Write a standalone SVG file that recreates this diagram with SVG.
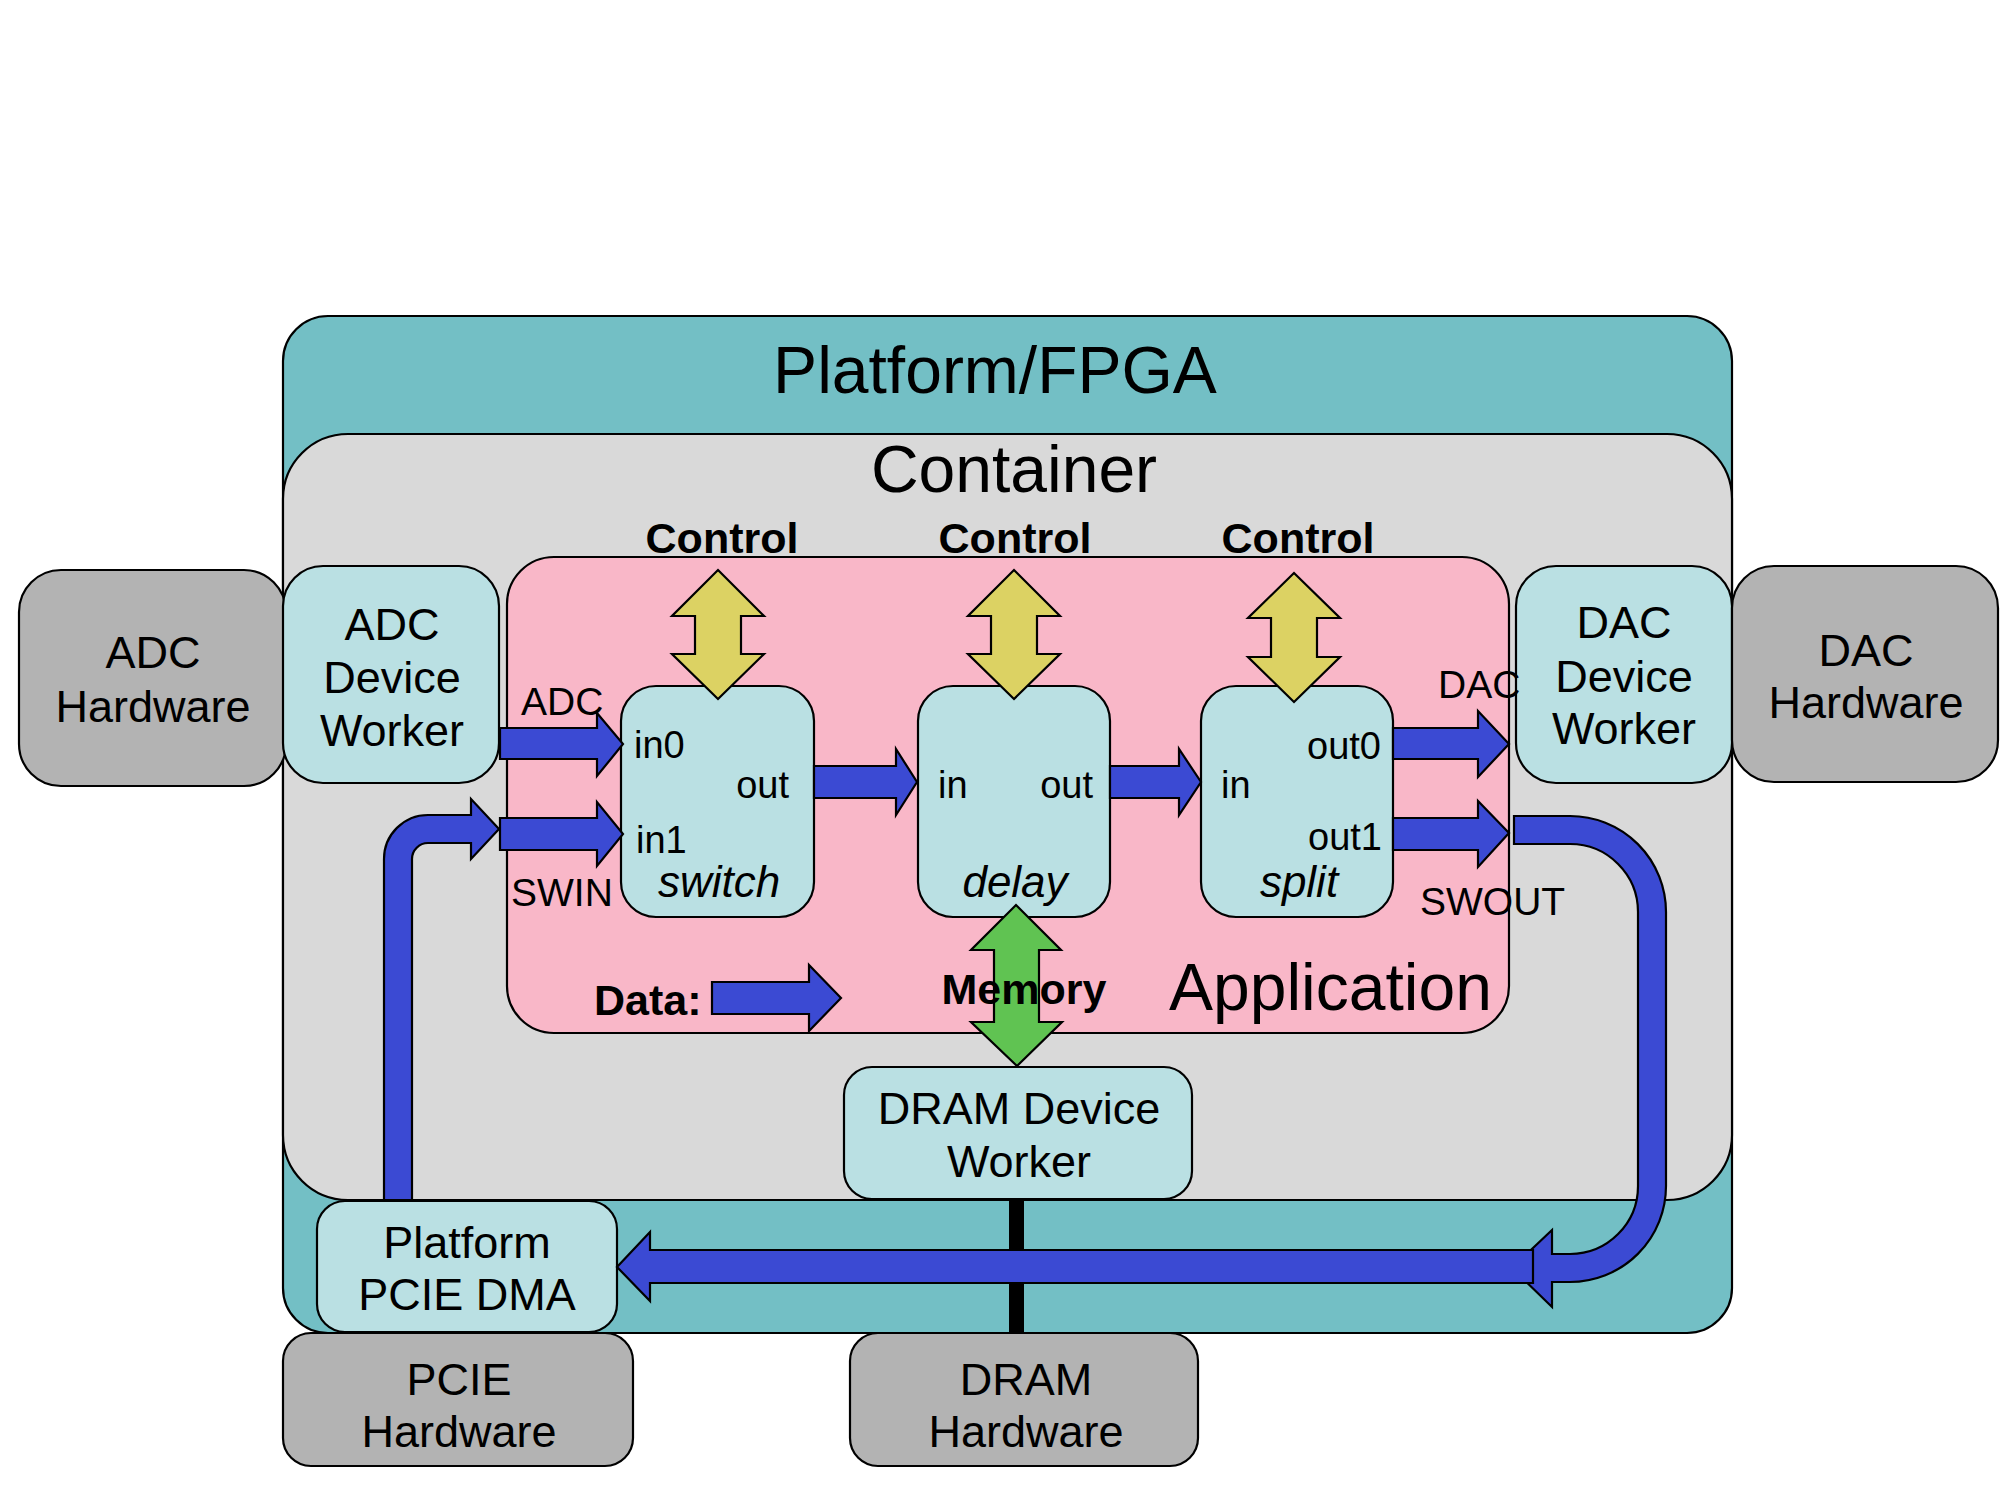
<svg xmlns="http://www.w3.org/2000/svg" width="2000" height="1500" viewBox="0 0 2000 1500">
<style>
  .box{stroke:#000;stroke-width:2.2}
  .plat{fill:#73BFC5}
  .cont{fill:#D9D9D9}
  .app{fill:#F9B7C8}
  .lt{fill:#BAE0E3}
  .hw{fill:#B3B3B3}
  .blue{fill:#3B4AD3;stroke:#000;stroke-width:2.2;stroke-linejoin:miter}
  .yel{fill:#DCD263;stroke:#000;stroke-width:2.2}
  .grn{fill:#60C352;stroke:#000;stroke-width:2.2}
  text{font-family:"Liberation Sans",Arial,sans-serif;fill:#000}
  .t66{font-size:66px}
  .t42{font-size:45px;text-anchor:middle}
  .b{font-size:43px;font-weight:bold}
  .port{font-size:38px}
  .lab{font-size:39px}
  .it{font-size:44px;font-style:italic;text-anchor:middle}
</style>
<rect width="2000" height="1500" fill="#fff"/>
<g id="platform">
  <rect class="box plat" x="283" y="316" width="1449" height="1017" rx="45"/>
  <text class="t66" x="995" y="393" text-anchor="middle">Platform/FPGA</text>
</g>
<g id="container">
  <rect class="box cont" x="283" y="434" width="1449" height="766" rx="65"/>
  <text class="t66" x="1014" y="492" text-anchor="middle">Container</text>
</g>
<g id="application">
  <rect class="box app" x="507" y="557" width="1002" height="476" rx="47"/>
  <text class="t66" x="1169" y="1010">Application</text>
</g>
<g id="adc-hardware">
  <rect class="box hw" x="19" y="570" width="267" height="216" rx="42"/>
  <text class="t42" x="153" y="668">ADC</text>
  <text class="t42" x="153" y="722">Hardware</text>
</g>
<g id="adc-worker">
  <rect class="box lt" x="283" y="566" width="216" height="217" rx="40"/>
  <text class="t42" x="392" y="640">ADC</text>
  <text class="t42" x="392" y="693">Device</text>
  <text class="t42" x="392" y="746">Worker</text>
</g>
<g id="dac-worker">
  <rect class="box lt" x="1516" y="566" width="216" height="217" rx="40"/>
  <text class="t42" x="1624" y="638">DAC</text>
  <text class="t42" x="1624" y="692">Device</text>
  <text class="t42" x="1624" y="744">Worker</text>
</g>
<g id="dac-hardware">
  <rect class="box hw" x="1732" y="566" width="266" height="216" rx="42"/>
  <text class="t42" x="1866" y="666">DAC</text>
  <text class="t42" x="1866" y="718">Hardware</text>
</g>
<g id="switch">
  <rect class="box lt" x="621" y="686" width="193" height="231" rx="35"/>
  <text class="port" x="634" y="758">in0</text>
  <text class="port" x="789" y="798" text-anchor="end">out</text>
  <text class="port" x="636" y="853">in1</text>
  <text class="it" x="719" y="897">switch</text>
</g>
<g id="delay">
  <rect class="box lt" x="918" y="686" width="192" height="231" rx="35"/>
  <text class="port" x="938" y="798">in</text>
  <text class="port" x="1093" y="798" text-anchor="end">out</text>
  <text class="it" x="1015" y="897">delay</text>
</g>
<g id="split">
  <rect class="box lt" x="1201" y="686" width="192" height="231" rx="35"/>
  <text class="port" x="1381" y="759" text-anchor="end">out0</text>
  <text class="port" x="1221" y="798">in</text>
  <text class="port" x="1382" y="850" text-anchor="end">out1</text>
  <text class="it" x="1299" y="897">split</text>
</g>
<g id="dram-worker">
  <rect class="box lt" x="844" y="1067" width="348" height="132" rx="28"/>
  <text class="t42" x="1019" y="1124">DRAM Device</text>
  <text class="t42" x="1019" y="1177">Worker</text>
</g>
<g id="pcie-dma">
  <rect class="box lt" x="317" y="1201" width="300" height="131" rx="28"/>
  <text class="t42" x="467" y="1258">Platform</text>
  <text class="t42" x="467" y="1310">PCIE DMA</text>
</g>
<g id="pcie-hardware">
  <rect class="box hw" x="283" y="1333" width="350" height="133" rx="28"/>
  <text class="t42" x="459" y="1395">PCIE</text>
  <text class="t42" x="459" y="1447">Hardware</text>
</g>
<g id="dram-hardware">
  <rect class="box hw" x="850" y="1333" width="348" height="133" rx="28"/>
  <text class="t42" x="1026" y="1395">DRAM</text>
  <text class="t42" x="1026" y="1447">Hardware</text>
</g>
<g id="connectors">
  <rect x="1009" y="1199" width="15" height="134" fill="#000"/>
  <polygon class="yel" points="718,570 764,616 741,616 741,654 764,654 718,699 672,654 695,654 695,616 672,616"/>
  <polygon class="yel" points="1014,570 1060,616 1037,616 1037,654 1060,654 1014,699 968,654 991,654 991,616 968,616"/>
  <polygon class="yel" points="1294,573 1340,618 1317,618 1317,657 1340,657 1294,702 1248,657 1271,657 1271,618 1248,618"/>
  <polygon class="grn" points="1016,905 1061,950 1039,950 1039,1022 1062,1022 1017,1066 971,1022 994,1022 994,950 971,950"/>
  <polygon class="blue" points="500,728 597,728 597,713 623,744 597,776 597,759 500,759"/>
  <polygon class="blue" points="500,818 597,818 597,802 623,834 597,866 597,850 500,850"/>
  <polygon class="blue" points="814,766 896,766 896,749 917,782 896,815 896,798 814,798"/>
  <polygon class="blue" points="1110,766 1179,766 1179,749 1201,782 1179,815 1179,798 1110,798"/>
  <polygon class="blue" points="1393,728 1478,728 1478,711 1509,744 1478,777 1478,759 1393,759"/>
  <polygon class="blue" points="1393,818 1478,818 1478,801 1509,833 1478,867 1478,850 1393,850"/>
  <polygon class="blue" points="712,982 809,982 809,965 841,998 809,1031 809,1014 712,1014"/>
  <path class="blue" d="M384,1200 L384,859 A44,44 0 0 1 428,815 L471,815 L471,799 L499,829 L471,859 L471,843 L428,843 A16,16 0 0 0 412,859 L412,1200 Z"/>
  <path class="blue" d="M1514,816 L1570,816 A96,96 0 0 1 1666,912 L1666,1186 A96,96 0 0 1 1570,1282 L1552,1282 L1552,1307 L1512,1268 L1552,1230 L1552,1254 L1570,1254 A68,68 0 0 0 1638,1186 L1638,912 A68,68 0 0 0 1570,844 L1514,844 Z"/>
  <polygon class="blue" points="1533,1250 650,1250 650,1232 617,1267 650,1301 650,1283 1533,1283"/>
</g>
<g id="labels">
  <text class="b" x="722" y="553" text-anchor="middle">Control</text>
  <text class="b" x="1015" y="553" text-anchor="middle">Control</text>
  <text class="b" x="1298" y="553" text-anchor="middle">Control</text>
  <text class="b" x="1024" y="1004" text-anchor="middle">Memory</text>
  <text class="b" x="594" y="1015">Data:</text>
  <text class="lab" x="521" y="715">ADC</text>
  <text class="lab" x="511" y="906">SWIN</text>
  <text class="lab" x="1438" y="698">DAC</text>
  <text class="lab" x="1420" y="915">SWOUT</text>
</g>
</svg>
